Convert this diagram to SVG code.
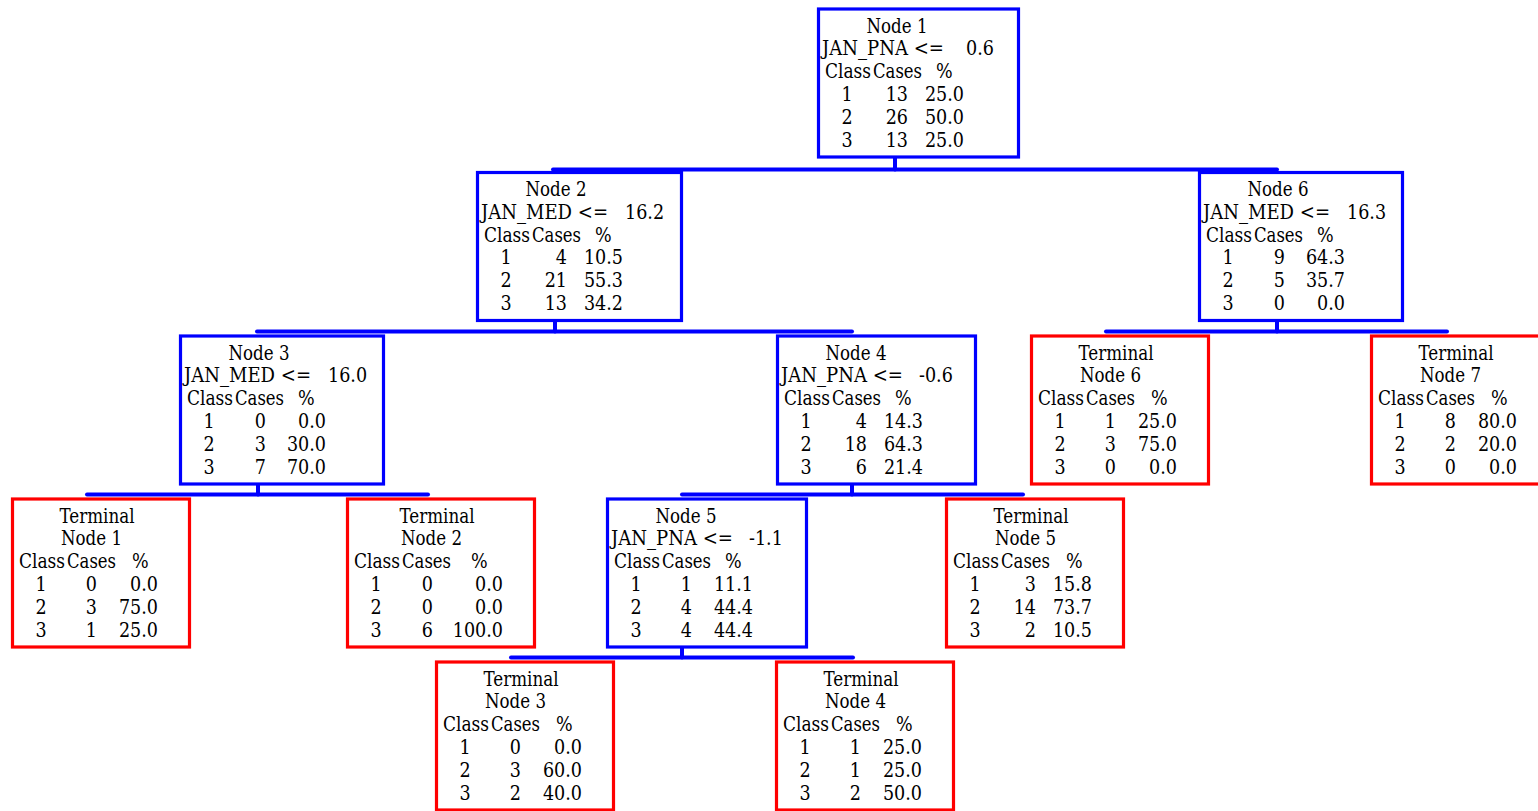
<svg xmlns="http://www.w3.org/2000/svg" width="1538" height="811" viewBox="0 0 1538 811">
<style>
text{font-family:'DejaVu Serif Condensed','DejaVu Serif','Liberation Serif',serif;font-stretch:condensed;font-size:19.5px;fill:#000}
.m{text-anchor:middle}.e{text-anchor:end}
.split rect{fill:#fff;stroke:#0000ff;stroke-width:3.2}
.term rect{fill:#fff;stroke:#ff0000;stroke-width:3.2}
#connectors line{stroke:#0000ff;stroke-width:4;stroke-linecap:round}
</style>
<rect width="1538" height="811" fill="#fff"/>
<g id="connectors">
<line x1="895" y1="158" x2="895" y2="169.5"/><line x1="553" y1="169.5" x2="1277" y2="169.5"/>
<line x1="555" y1="322" x2="555" y2="331.5"/><line x1="257" y1="331.5" x2="852" y2="331.5"/>
<line x1="1277" y1="322" x2="1277" y2="331.5"/><line x1="1106" y1="331.5" x2="1447" y2="331.5"/>
<line x1="258" y1="485" x2="258" y2="494.5"/><line x1="87" y1="494.5" x2="428" y2="494.5"/>
<line x1="852" y1="485" x2="852" y2="494.5"/><line x1="682" y1="494.5" x2="1023" y2="494.5"/>
<line x1="682" y1="648" x2="682" y2="657.5"/><line x1="511" y1="657.5" x2="853" y2="657.5"/>
</g>
<g id="node1" class="split" transform="translate(817,7.5)">
<rect x="1.5" y="1.5" width="200" height="148"/>
<text class="m" x="80" y="25" textLength="61" lengthAdjust="spacingAndGlyphs">Node 1</text>
<text x="5" y="47.8" textLength="122" lengthAdjust="spacingAndGlyphs">JAN_PNA &lt;=</text><text x="149" y="47.8">0.6</text>
<text x="8" y="70.6" textLength="46" lengthAdjust="spacingAndGlyphs">Class</text><text x="56" y="70.6" textLength="49" lengthAdjust="spacingAndGlyphs">Cases</text><text x="119" y="70.6">%</text>
<text class="m" x="30" y="93.4">1</text><text class="e" x="91" y="93.4">13</text><text class="e" x="147" y="93.4">25.0</text>
<text class="m" x="30" y="116.2">2</text><text class="e" x="91" y="116.2">26</text><text class="e" x="147" y="116.2">50.0</text>
<text class="m" x="30" y="139">3</text><text class="e" x="91" y="139">13</text><text class="e" x="147" y="139">25.0</text>
</g>
<g id="node2" class="split" transform="translate(476,171)">
<rect x="1.5" y="1.5" width="204" height="148"/>
<text class="m" x="80" y="25" textLength="61" lengthAdjust="spacingAndGlyphs">Node 2</text>
<text x="5" y="47.8" textLength="127" lengthAdjust="spacingAndGlyphs">JAN_MED &lt;=</text><text x="149" y="47.8">16.2</text>
<text x="8" y="70.6" textLength="46" lengthAdjust="spacingAndGlyphs">Class</text><text x="56" y="70.6" textLength="49" lengthAdjust="spacingAndGlyphs">Cases</text><text x="119" y="70.6">%</text>
<text class="m" x="30" y="93.4">1</text><text class="e" x="91" y="93.4">4</text><text class="e" x="147" y="93.4">10.5</text>
<text class="m" x="30" y="116.2">2</text><text class="e" x="91" y="116.2">21</text><text class="e" x="147" y="116.2">55.3</text>
<text class="m" x="30" y="139">3</text><text class="e" x="91" y="139">13</text><text class="e" x="147" y="139">34.2</text>
</g>
<g id="node6" class="split" transform="translate(1198,171)">
<rect x="1.5" y="1.5" width="203" height="148"/>
<text class="m" x="80" y="25" textLength="61" lengthAdjust="spacingAndGlyphs">Node 6</text>
<text x="5" y="47.8" textLength="127" lengthAdjust="spacingAndGlyphs">JAN_MED &lt;=</text><text x="149" y="47.8">16.3</text>
<text x="8" y="70.6" textLength="46" lengthAdjust="spacingAndGlyphs">Class</text><text x="56" y="70.6" textLength="49" lengthAdjust="spacingAndGlyphs">Cases</text><text x="119" y="70.6">%</text>
<text class="m" x="30" y="93.4">1</text><text class="e" x="87" y="93.4">9</text><text class="e" x="147" y="93.4">64.3</text>
<text class="m" x="30" y="116.2">2</text><text class="e" x="87" y="116.2">5</text><text class="e" x="147" y="116.2">35.7</text>
<text class="m" x="30" y="139">3</text><text class="e" x="87" y="139">0</text><text class="e" x="147" y="139">0.0</text>
</g>
<g id="node3" class="split" transform="translate(179,334.5)">
<rect x="1.5" y="1.5" width="203" height="148"/>
<text class="m" x="80" y="25" textLength="61" lengthAdjust="spacingAndGlyphs">Node 3</text>
<text x="5" y="47.8" textLength="127" lengthAdjust="spacingAndGlyphs">JAN_MED &lt;=</text><text x="149" y="47.8">16.0</text>
<text x="8" y="70.6" textLength="46" lengthAdjust="spacingAndGlyphs">Class</text><text x="56" y="70.6" textLength="49" lengthAdjust="spacingAndGlyphs">Cases</text><text x="119" y="70.6">%</text>
<text class="m" x="30" y="93.4">1</text><text class="e" x="87" y="93.4">0</text><text class="e" x="147" y="93.4">0.0</text>
<text class="m" x="30" y="116.2">2</text><text class="e" x="87" y="116.2">3</text><text class="e" x="147" y="116.2">30.0</text>
<text class="m" x="30" y="139">3</text><text class="e" x="87" y="139">7</text><text class="e" x="147" y="139">70.0</text>
</g>
<g id="node4" class="split" transform="translate(776,334.5)">
<rect x="1.5" y="1.5" width="198" height="148"/>
<text class="m" x="80" y="25" textLength="61" lengthAdjust="spacingAndGlyphs">Node 4</text>
<text x="5" y="47.8" textLength="122" lengthAdjust="spacingAndGlyphs">JAN_PNA &lt;=</text><text x="143" y="47.8">-0.6</text>
<text x="8" y="70.6" textLength="46" lengthAdjust="spacingAndGlyphs">Class</text><text x="56" y="70.6" textLength="49" lengthAdjust="spacingAndGlyphs">Cases</text><text x="119" y="70.6">%</text>
<text class="m" x="30" y="93.4">1</text><text class="e" x="91" y="93.4">4</text><text class="e" x="147" y="93.4">14.3</text>
<text class="m" x="30" y="116.2">2</text><text class="e" x="91" y="116.2">18</text><text class="e" x="147" y="116.2">64.3</text>
<text class="m" x="30" y="139">3</text><text class="e" x="91" y="139">6</text><text class="e" x="147" y="139">21.4</text>
</g>
<g id="node5" class="split" transform="translate(606,497.5)">
<rect x="1.5" y="1.5" width="199" height="148"/>
<text class="m" x="80" y="25" textLength="61" lengthAdjust="spacingAndGlyphs">Node 5</text>
<text x="5" y="47.8" textLength="122" lengthAdjust="spacingAndGlyphs">JAN_PNA &lt;=</text><text x="143" y="47.8">-1.1</text>
<text x="8" y="70.6" textLength="46" lengthAdjust="spacingAndGlyphs">Class</text><text x="56" y="70.6" textLength="49" lengthAdjust="spacingAndGlyphs">Cases</text><text x="119" y="70.6">%</text>
<text class="m" x="30" y="93.4">1</text><text class="e" x="86" y="93.4">1</text><text class="e" x="147" y="93.4">11.1</text>
<text class="m" x="30" y="116.2">2</text><text class="e" x="86" y="116.2">4</text><text class="e" x="147" y="116.2">44.4</text>
<text class="m" x="30" y="139">3</text><text class="e" x="86" y="139">4</text><text class="e" x="147" y="139">44.4</text>
</g>
<g id="terminal1" class="term" transform="translate(11,497.5)">
<rect x="1.5" y="1.5" width="177" height="148"/>
<text class="m" x="86" y="25" textLength="75" lengthAdjust="spacingAndGlyphs">Terminal</text>
<text class="m" x="80.5" y="47.8" textLength="61" lengthAdjust="spacingAndGlyphs">Node 1</text>
<text x="8" y="70.6" textLength="46" lengthAdjust="spacingAndGlyphs">Class</text><text x="56" y="70.6" textLength="49" lengthAdjust="spacingAndGlyphs">Cases</text><text x="121" y="70.6">%</text>
<text class="m" x="30" y="93.4">1</text><text class="e" x="86" y="93.4">0</text><text class="e" x="147" y="93.4">0.0</text>
<text class="m" x="30" y="116.2">2</text><text class="e" x="86" y="116.2">3</text><text class="e" x="147" y="116.2">75.0</text>
<text class="m" x="30" y="139">3</text><text class="e" x="86" y="139">1</text><text class="e" x="147" y="139">25.0</text>
</g>
<g id="terminal2" class="term" transform="translate(346,497.5)">
<rect x="1.5" y="1.5" width="187" height="148"/>
<text class="m" x="91" y="25" textLength="75" lengthAdjust="spacingAndGlyphs">Terminal</text>
<text class="m" x="85.5" y="47.8" textLength="61" lengthAdjust="spacingAndGlyphs">Node 2</text>
<text x="8" y="70.6" textLength="46" lengthAdjust="spacingAndGlyphs">Class</text><text x="56" y="70.6" textLength="49" lengthAdjust="spacingAndGlyphs">Cases</text><text x="125" y="70.6">%</text>
<text class="m" x="30" y="93.4">1</text><text class="e" x="87" y="93.4">0</text><text class="e" x="157" y="93.4">0.0</text>
<text class="m" x="30" y="116.2">2</text><text class="e" x="87" y="116.2">0</text><text class="e" x="157" y="116.2">0.0</text>
<text class="m" x="30" y="139">3</text><text class="e" x="87" y="139">6</text><text class="e" x="157" y="139">100.0</text>
</g>
<g id="terminal3" class="term" transform="translate(435,660.5)">
<rect x="1.5" y="1.5" width="177" height="148"/>
<text class="m" x="86" y="25" textLength="75" lengthAdjust="spacingAndGlyphs">Terminal</text>
<text class="m" x="80.5" y="47.8" textLength="61" lengthAdjust="spacingAndGlyphs">Node 3</text>
<text x="8" y="70.6" textLength="46" lengthAdjust="spacingAndGlyphs">Class</text><text x="56" y="70.6" textLength="49" lengthAdjust="spacingAndGlyphs">Cases</text><text x="121" y="70.6">%</text>
<text class="m" x="30" y="93.4">1</text><text class="e" x="86" y="93.4">0</text><text class="e" x="147" y="93.4">0.0</text>
<text class="m" x="30" y="116.2">2</text><text class="e" x="86" y="116.2">3</text><text class="e" x="147" y="116.2">60.0</text>
<text class="m" x="30" y="139">3</text><text class="e" x="86" y="139">2</text><text class="e" x="147" y="139">40.0</text>
</g>
<g id="terminal4" class="term" transform="translate(775,660.5)">
<rect x="1.5" y="1.5" width="177" height="148"/>
<text class="m" x="86" y="25" textLength="75" lengthAdjust="spacingAndGlyphs">Terminal</text>
<text class="m" x="80.5" y="47.8" textLength="61" lengthAdjust="spacingAndGlyphs">Node 4</text>
<text x="8" y="70.6" textLength="46" lengthAdjust="spacingAndGlyphs">Class</text><text x="56" y="70.6" textLength="49" lengthAdjust="spacingAndGlyphs">Cases</text><text x="121" y="70.6">%</text>
<text class="m" x="30" y="93.4">1</text><text class="e" x="86" y="93.4">1</text><text class="e" x="147" y="93.4">25.0</text>
<text class="m" x="30" y="116.2">2</text><text class="e" x="86" y="116.2">1</text><text class="e" x="147" y="116.2">25.0</text>
<text class="m" x="30" y="139">3</text><text class="e" x="86" y="139">2</text><text class="e" x="147" y="139">50.0</text>
</g>
<g id="terminal5" class="term" transform="translate(945,497.5)">
<rect x="1.5" y="1.5" width="177" height="148"/>
<text class="m" x="86" y="25" textLength="75" lengthAdjust="spacingAndGlyphs">Terminal</text>
<text class="m" x="80.5" y="47.8" textLength="61" lengthAdjust="spacingAndGlyphs">Node 5</text>
<text x="8" y="70.6" textLength="46" lengthAdjust="spacingAndGlyphs">Class</text><text x="56" y="70.6" textLength="49" lengthAdjust="spacingAndGlyphs">Cases</text><text x="121" y="70.6">%</text>
<text class="m" x="30" y="93.4">1</text><text class="e" x="91" y="93.4">3</text><text class="e" x="147" y="93.4">15.8</text>
<text class="m" x="30" y="116.2">2</text><text class="e" x="91" y="116.2">14</text><text class="e" x="147" y="116.2">73.7</text>
<text class="m" x="30" y="139">3</text><text class="e" x="91" y="139">2</text><text class="e" x="147" y="139">10.5</text>
</g>
<g id="terminal6" class="term" transform="translate(1030,334.5)">
<rect x="1.5" y="1.5" width="177" height="148"/>
<text class="m" x="86" y="25" textLength="75" lengthAdjust="spacingAndGlyphs">Terminal</text>
<text class="m" x="80.5" y="47.8" textLength="61" lengthAdjust="spacingAndGlyphs">Node 6</text>
<text x="8" y="70.6" textLength="46" lengthAdjust="spacingAndGlyphs">Class</text><text x="56" y="70.6" textLength="49" lengthAdjust="spacingAndGlyphs">Cases</text><text x="121" y="70.6">%</text>
<text class="m" x="30" y="93.4">1</text><text class="e" x="86" y="93.4">1</text><text class="e" x="147" y="93.4">25.0</text>
<text class="m" x="30" y="116.2">2</text><text class="e" x="86" y="116.2">3</text><text class="e" x="147" y="116.2">75.0</text>
<text class="m" x="30" y="139">3</text><text class="e" x="86" y="139">0</text><text class="e" x="147" y="139">0.0</text>
</g>
<g id="terminal7" class="term" transform="translate(1370,334.5)">
<rect x="1.5" y="1.5" width="177" height="148"/>
<text class="m" x="86" y="25" textLength="75" lengthAdjust="spacingAndGlyphs">Terminal</text>
<text class="m" x="80.5" y="47.8" textLength="61" lengthAdjust="spacingAndGlyphs">Node 7</text>
<text x="8" y="70.6" textLength="46" lengthAdjust="spacingAndGlyphs">Class</text><text x="56" y="70.6" textLength="49" lengthAdjust="spacingAndGlyphs">Cases</text><text x="121" y="70.6">%</text>
<text class="m" x="30" y="93.4">1</text><text class="e" x="86" y="93.4">8</text><text class="e" x="147" y="93.4">80.0</text>
<text class="m" x="30" y="116.2">2</text><text class="e" x="86" y="116.2">2</text><text class="e" x="147" y="116.2">20.0</text>
<text class="m" x="30" y="139">3</text><text class="e" x="86" y="139">0</text><text class="e" x="147" y="139">0.0</text>
</g>
</svg>
